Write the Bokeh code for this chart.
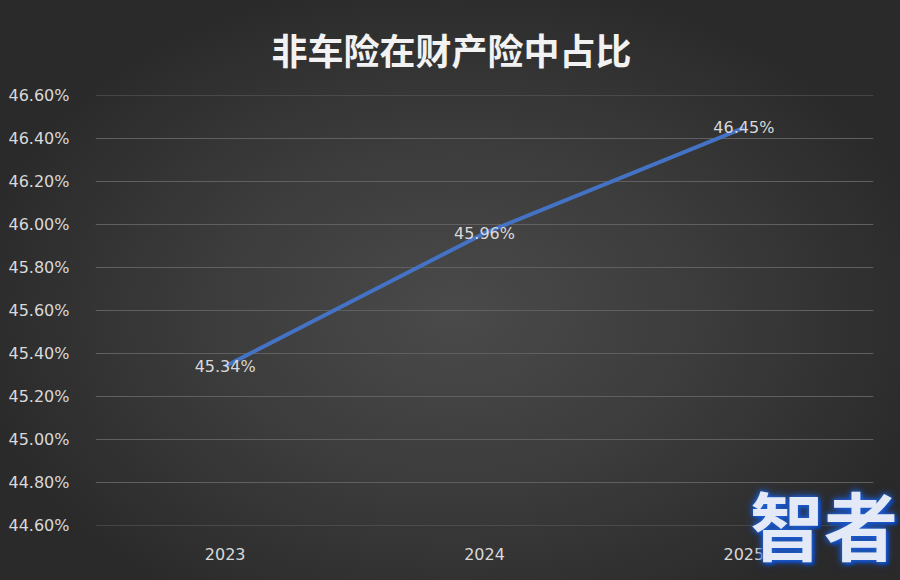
from bokeh.plotting import figure
from bokeh.models import FixedTicker, PrintfTickFormatter, Range1d, Div
from bokeh.core.properties import value
from bokeh.embed import file_html
from bokeh.resources import INLINE

years = ["2023", "2024", "2025"]
shares = [45.34, 45.96, 46.45]
labels = ["45.34%", "45.96%", "46.45%"]
y_ticks = [44.6, 44.8, 45.0, 45.2, 45.4, 45.6, 45.8, 46.0, 46.2, 46.4, 46.6]
title_text = "非车险在财产险中占比"
watermark = "智者"

TXT = "#d9d9d9"
FONT = "DejaVu Sans"

p = figure(width=900, height=580, x_range=years, y_range=Range1d(44.599, 46.601),
           output_backend="svg", toolbar_location=None, title=title_text,
           min_border_left=95, min_border_right=27, min_border_top=95, min_border_bottom=55)

p.background_fill_color = None
p.border_fill_color = None
p.outline_line_color = None

p.title.text_font = "Noto Sans CJK SC"
p.title.text_font_size = "36px"
p.title.text_font_style = "bold"
p.title.text_color = "#f2f2f2"
p.title.align = "left"
p.title.offset = 176
p.title.standoff = 41

p.yaxis.ticker = FixedTicker(ticks=y_ticks)
p.yaxis.formatter = PrintfTickFormatter(format="%.2f%%")
for ax in (p.xaxis[0], p.yaxis[0]):
    ax.axis_line_color = None
    ax.major_tick_line_color = None
    ax.minor_tick_line_color = None
    ax.major_label_text_color = TXT
    ax.major_label_text_font = FONT
    ax.major_label_text_font_size = "16px"
p.yaxis.major_label_standoff = 20
p.xaxis.major_label_standoff = 16

p.xgrid.visible = False
p.ygrid.grid_line_color = "#606060"
p.ygrid.grid_line_width = 1

p.line(x=years, y=shares, line_color="#4472C4", line_width=4)
p.text(x=years, y=shares, text=labels, text_align="center", text_baseline="middle",
       text_color=TXT, text_font=value(FONT), text_font_size="16px")

bg = Div(text="", width=940, height=620, styles={
    "position": "absolute", "left": "-20px", "top": "-20px", "z-index": "-1",
    "width": "940px", "height": "620px",
    "background": "radial-gradient(ellipse 52% 55% at 50% 53%, #4a4a4a 0%, #3c3c3c 50%, #2a2a2a 100%)",
})

wm = Div(text=watermark, styles={
    "position": "absolute", "left": "750px", "top": "486px",
    "font-family": "Noto Sans CJK SC", "font-size": "74px", "font-weight": "bold",
    "line-height": "1", "color": "#e3e9f6", "margin": "0", "padding": "0",
    "text-shadow": "0 0 3px #1f5fd0, 0 0 6px #1f5fd0, 0 0 10px #1f4fb0, 3px 3px 2px #0b3a9a",
})

open("out.html", "w").write(file_html([bg, p, wm], INLINE))
